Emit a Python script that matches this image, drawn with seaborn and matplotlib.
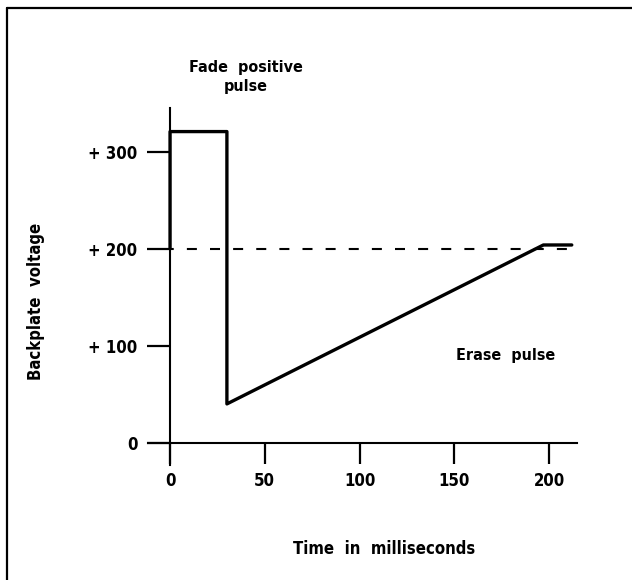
import numpy as np
import pandas as pd
import matplotlib.pyplot as plt
import seaborn as sns
from matplotlib.lines import Line2D

# Backplate voltage waveform
time_ms = [0, 0, 30, 30, 197, 212]
voltage = [200, 321, 321, 40, 204, 204]
ref_level = 200          # dashed steady level
ref_end_ms = 212

x_ticks = [0, 50, 100, 150, 200]
y_ticks = [0, 100, 200, 300]
y_tick_labels = ["0", "+ 100", "+ 200", "+ 300"]

df = pd.DataFrame({"Time": time_ms, "Voltage": voltage})

sns.set_style("white")
plt.rcParams["font.family"] = ["DejaVu Sans"]
plt.rcParams["font.weight"] = "bold"
plt.rcParams["font.stretch"] = "condensed"
plt.rcParams["text.color"] = "black"

fig = plt.figure(figsize=(6.32, 5.8), dpi=100)
ax = fig.add_axes([0.2271, 0.1866, 0.7016, 0.6350])

# main pulse trace
sns.lineplot(data=df, x="Time", y="Voltage", sort=False, estimator=None,
             color="black", linewidth=2.4, ax=ax)
# dashed +200 level
ax.hlines(ref_level, 0, ref_end_ms, colors="black", linewidth=1.5,
          linestyles=(3, (4.8, 6.3)))

ax.set_xlim(-14, 220)
ax.set_ylim(-30, 350)

# axes drawn as crossing lines through the origin
for side in ["top", "right"]:
    ax.spines[side].set_visible(False)
ax.spines["left"].set_position(("data", 0))
ax.spines["bottom"].set_position(("data", 0))
ax.spines["left"].set_bounds(-23, 345)
ax.spines["bottom"].set_bounds(-11.5, 215)
for side in ["left", "bottom"]:
    ax.spines[side].set_color("black")
    ax.spines[side].set_linewidth(1.5)

ax.set_xticks(x_ticks)
ax.set_xticklabels([str(t) for t in x_ticks])
ax.set_yticks(y_ticks)
ax.set_yticklabels(y_tick_labels)
ax.tick_params(axis="x", direction="out", length=15, width=1.6, pad=6,
               labelsize=12, colors="black")
ax.tick_params(axis="y", direction="out", length=16.5, width=1.6, pad=7,
               labelsize=12, colors="black")
ax.tick_params(axis="both", which="both", bottom=True, left=True)

ax.set_xlabel("")
ax.set_ylabel("")
fig.text(384 / 632, 1 - 549 / 580, "Time  in  milliseconds", ha="center",
         va="center", fontsize=12, fontweight="bold")
fig.text(36 / 632, 1 - 301 / 580, "Backplate  voltage", ha="center",
         va="center", rotation=90, fontsize=12, fontweight="bold")

ax.text(40, 377, "Fade  positive\npulse", ha="center", va="center",
        fontsize=11.5, fontweight="bold", linespacing=1.35, clip_on=False)
ax.text(177, 90, "Erase  pulse", ha="center", va="center",
        fontsize=11.5, fontweight="bold")

# frame of the original figure (left and top rules)
fig.add_artist(Line2D([7 / 632, 7 / 632], [0, 1 - 8 / 580],
                      transform=fig.transFigure, color="black", linewidth=1.6))
fig.add_artist(Line2D([7 / 632, 1], [1 - 8 / 580, 1 - 8 / 580],
                      transform=fig.transFigure, color="black", linewidth=1.6))

fig.savefig("out.png", dpi=100)
